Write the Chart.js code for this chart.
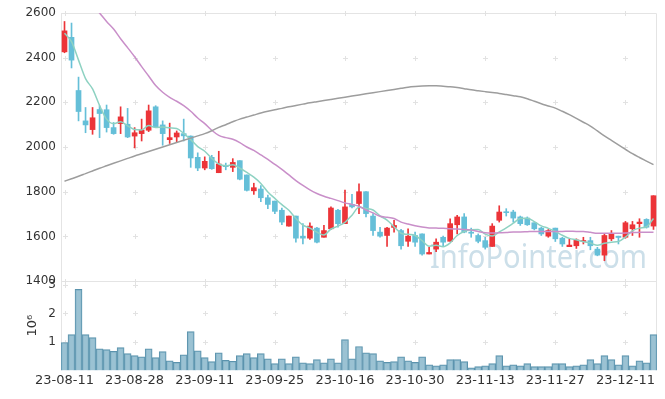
<!DOCTYPE html>
<html lang="ko">
<head>
    <meta charset="UTF-8">
    <title>Price chart</title>
    <script src="https://cdn.jsdelivr.net/npm/chart.js"></script>
    <style>
        body { margin: 0; background: #fff; }
        #stockChart { display: block; }
    </style>
</head>
<body>
<canvas id="stockChart" width="665" height="399"></canvas>
<script>
    let dates = ["23-08-11","23-08-14","23-08-16","23-08-17","23-08-18","23-08-21","23-08-22","23-08-23","23-08-24","23-08-25",
        "23-08-28","23-08-29","23-08-30","23-08-31","23-09-01","23-09-04","23-09-05","23-09-06","23-09-07","23-09-08",
        "23-09-11","23-09-12","23-09-13","23-09-14","23-09-15","23-09-18","23-09-19","23-09-20","23-09-21","23-09-22",
        "23-09-25","23-09-26","23-09-27","23-10-04","23-10-05","23-10-06","23-10-10","23-10-11","23-10-12","23-10-13",
        "23-10-16","23-10-17","23-10-18","23-10-19","23-10-20","23-10-23","23-10-24","23-10-25","23-10-26","23-10-27",
        "23-10-30","23-10-31","23-11-01","23-11-02","23-11-03","23-11-06","23-11-07","23-11-08","23-11-09","23-11-10",
        "23-11-13","23-11-14","23-11-15","23-11-16","23-11-17","23-11-20","23-11-21","23-11-22","23-11-23","23-11-24",
        "23-11-27","23-11-28","23-11-29","23-11-30","23-12-01","23-12-04","23-12-05","23-12-06","23-12-07","23-12-08",
        "23-12-11","23-12-12","23-12-13","23-12-14","23-12-15"];

    let openP = [2426,2491,2253,2117,2078,2168,2167,2087,2105,2102,
        2049,2060,2075,2180,2099,2033,2045,2060,2049,1954,
        1906,1954,1885,1918,1909,1939,1875,1804,1812,1773,
        1758,1717,1646,1691,1601,1592,1637,1596,1634,1717,
        1657,1743,1747,1800,1691,1619,1604,1640,1626,1578,
        1604,1611,1521,1543,1596,1578,1652,1687,1619,1604,
        1581,1555,1672,1709,1709,1687,1682,1661,1637,1601,
        1637,1592,1554,1558,1577,1581,1543,1516,1589,1601,
        1596,1634,1657,1676,1646];
    let highP = [2562,2555,2313,2177,2177,2185,2188,2110,2180,2173,
        2087,2125,2188,2185,2117,2107,2072,2125,2050,1974,
        1956,1963,1981,1928,1948,1939,1875,1838,1827,1785,
        1758,1727,1691,1691,1657,1661,1641,1649,1732,1721,
        1807,1788,1835,1800,1702,1641,1641,1672,1631,1634,
        1619,1611,1551,1589,1601,1679,1694,1702,1637,1611,
        1596,1657,1737,1724,1717,1691,1687,1661,1641,1631,
        1637,1596,1589,1589,1596,1596,1551,1611,1626,1601,
        1667,1667,1679,1679,1782];
    let lowP = [2422,2354,2117,2064,2057,2042,2067,2057,2060,2042,
        1996,2027,2069,2087,2008,2016,2024,2027,1909,1894,
        1898,1900,1885,1898,1890,1853,1803,1788,1755,1724,
        1702,1652,1646,1574,1566,1586,1571,1596,1631,1641,
        1657,1727,1702,1687,1604,1596,1555,1619,1543,1555,
        1555,1516,1521,1531,1555,1578,1611,1616,1596,1571,
        1543,1555,1664,1691,1664,1649,1649,1629,1604,1596,
        1577,1555,1554,1546,1566,1540,1513,1491,1581,1566,
        1592,1604,1596,1637,1631];
    let closeP = [2520,2389,2159,2099,2131,2150,2087,2060,2135,2045,
        2064,2076,2162,2090,2060,2042,2063,2050,1951,1906,
        1936,1903,1924,1912,1931,1856,1806,1818,1773,1743,
        1712,1664,1691,1592,1592,1646,1574,1626,1727,1657,
        1732,1732,1800,1702,1626,1601,1637,1649,1558,1601,
        1574,1521,1528,1574,1574,1657,1687,1619,1614,1578,
        1551,1646,1709,1706,1682,1657,1652,1634,1611,1626,
        1589,1566,1561,1584,1581,1558,1516,1604,1611,1595,
        1661,1652,1664,1641,1782];

    // moving averages
    let ma5 = [2509,2472,2389,2306,2260,2186,2125,2105,2113,2095,
        2078,2076,2096,2087,2090,2086,2083,2061,2033,2002,
        1981,1949,1924,1916,1921,1905,1886,1865,1837,1799,
        1770,1742,1717,1680,1650,1637,1619,1606,1633,1646,
        1663,1695,1730,1725,1718,1692,1673,1643,1614,1609,
        1604,1581,1556,1560,1554,1571,1604,1622,1630,1631,
        1610,1602,1620,1638,1659,1680,1681,1666,1647,1636,
        1622,1605,1591,1585,1576,1570,1560,1569,1574,1577,
        1597,1625,1637,1643,1680];
    let ma20 = [2770,2740,2705,2670,2635,2600,2562,2528,2485,2445,
        2404,2360,2318,2275,2245,2222,2205,2185,2160,2130,
        2105,2075,2052,2042,2035,2020,2000,1985,1965,1945,
        1922,1900,1875,1850,1828,1808,1792,1780,1770,1760,
        1750,1743,1735,1718,1705,1690,1686,1680,1664,1655,
        1648,1642,1638,1637,1636,1634,1633,1631,1628,1622,
        1616,1615,1616,1617,1620,1620,1621,1622,1622,1622,
        1622,1622,1623,1622,1622,1618,1614,1614,1614,1614,
        1615,1617,1618,1619,1619];
    let ma60 = [1847,1858,1869,1881,1893,1905,1916,1927,1938,1949,
        1960,1970,1980,1990,2000,2010,2020,2030,2040,2050,
        2060,2073,2088,2100,2113,2125,2134,2143,2152,2160,
        2167,2173,2180,2186,2192,2198,2203,2208,2213,2218,
        2223,2228,2233,2238,2243,2248,2253,2258,2263,2268,
        2271,2273,2274,2274,2272,2270,2266,2261,2256,2252,
        2248,2244,2240,2235,2230,2225,2216,2205,2194,2184,
        2174,2160,2145,2128,2111,2094,2072,2050,2030,2010,
        1990,1970,1953,1937,1921];

    // volume in millions of shares
    let volume = [0.98,1.26,2.85,1.26,1.15,0.76,0.73,0.67,0.80,0.59,
        0.52,0.48,0.76,0.45,0.66,0.34,0.28,0.55,1.36,0.69,
        0.45,0.31,0.62,0.35,0.32,0.52,0.59,0.45,0.59,0.41,
        0.24,0.41,0.24,0.48,0.27,0.24,0.38,0.27,0.41,0.27,
        1.08,0.41,0.84,0.62,0.59,0.34,0.28,0.31,0.48,0.34,
        0.28,0.48,0.20,0.16,0.20,0.38,0.38,0.31,0.09,0.13,
        0.16,0.24,0.52,0.16,0.20,0.16,0.24,0.13,0.13,0.13,
        0.24,0.24,0.13,0.16,0.20,0.38,0.24,0.52,0.38,0.20,
        0.52,0.16,0.34,0.27,1.26];

    let priceTicks = [1400, 1600, 1800, 2000, 2200, 2400, 2600];
    let volumeTicks = [1, 2, 3];
    let labelEvery = 10;

    const RED = "#ec3438";
    const BLUE = "#65bfd8";
    let candleColors = closeP.map((c, i) => c >= openP[i] ? RED : BLUE);

    // frame, "+" grid marks and watermark
    let framePlugin = {
        id: "frame",
        beforeDatasetsDraw(chart) {
            let ctx = chart.ctx, a = chart.chartArea;
            let x = chart.scales.x, y = chart.scales.y, yv = chart.scales.yv;
            ctx.save();

            ctx.font = "32px 'Noto Sans'";
            let w = ctx.measureText("InfoPointer.com").width;
            ctx.translate(430, 268);
            ctx.scale(217 / w, 1);
            ctx.fillStyle = "#ccdfe9";
            ctx.fillText("InfoPointer.com", 0, 0);
            ctx.setTransform(1, 0, 0, 1, 0, 0);

            ctx.strokeStyle = "#e4e4e4";
            ctx.lineWidth = 1;
            ctx.beginPath();
            ctx.moveTo(a.left + 0.5, a.top + 0.5);
            ctx.lineTo(a.right - 0.5, a.top + 0.5);
            ctx.lineTo(a.right - 0.5, a.bottom);
            ctx.moveTo(a.left + 0.5, a.top);
            ctx.lineTo(a.left + 0.5, a.bottom);
            ctx.moveTo(a.left, Math.round(y.bottom) + 0.5);
            ctx.lineTo(a.right, Math.round(y.bottom) + 0.5);
            ctx.stroke();

            ctx.strokeStyle = "#e2e2e2";
            let ys = priceTicks.map(v => y.getPixelForValue(v)).concat(volumeTicks.map(v => yv.getPixelForValue(v)));
            ctx.beginPath();
            dates.forEach((d, i) => {
                if (i % labelEvery !== 0) return;
                let px = Math.round(x.getPixelForValue(i)) + 0.5;
                ys.forEach(py => {
                    py = Math.round(py) + 0.5;
                    ctx.moveTo(px - 2.5, py); ctx.lineTo(px + 2.5, py);
                    ctx.moveTo(px, py - 2.5); ctx.lineTo(px, py + 2.5);
                });
            });
            ctx.stroke();
            ctx.restore();
        }
    };

    let lineStyle = { type: "line", yAxisID: "y", pointRadius: 0, borderWidth: 1.5, fill: false, cubicInterpolationMode: "monotone", order: 0 };
    let tickFont = { family: "DejaVu Sans", size: 12 };
    let noGrid = { display: false, drawTicks: false };

    let chart = new Chart(document.getElementById("stockChart").getContext("2d"), {
        data: {
            labels: dates,
            datasets: [
                Object.assign({ data: ma60, borderColor: "#9d9d9d" }, lineStyle),
                Object.assign({ data: ma20, borderColor: "#c98fc9" }, lineStyle),
                Object.assign({ data: ma5, borderColor: "#8ed2c2" }, lineStyle),
                {
                    type: "bar", yAxisID: "y", order: 2, grouped: false,
                    data: dates.map((d, i) => [lowP[i], highP[i]]),
                    backgroundColor: candleColors, barThickness: 1
                },
                {
                    type: "bar", yAxisID: "y", order: 1, grouped: false,
                    data: dates.map((d, i) => [openP[i], closeP[i]]),
                    backgroundColor: candleColors, barThickness: 5, minBarLength: 1
                },
                {
                    type: "bar", yAxisID: "yv", order: 1, grouped: false,
                    data: volume,
                    backgroundColor: "rgba(137,183,203,0.85)",
                    borderColor: "#5b93ad", borderWidth: 1,
                    barPercentage: 1, categoryPercentage: 1
                }
            ]
        },
        options: {
            responsive: false,
            animation: false,
            layout: { padding: { top: 13, right: 8, left: 4, bottom: 9 } },
            plugins: { legend: { display: false }, tooltip: { enabled: false } },
            scales: {
                x: {
                    offset: true,
                    grid: noGrid,
                    border: { display: false },
                    ticks: {
                        autoSkip: false, maxRotation: 0, padding: 2,
                        color: "#333", font: { family: "DejaVu Sans", size: 13 },
                        callback: function (v, i) { return i % labelEvery === 0 ? dates[i] : null; }
                    }
                },
                // left boxes are laid out in reverse, so the volume axis comes first here
                yv: {
                    position: "left", stack: "main", stackWeight: 1,
                    min: 0, max: 3.14,
                    grid: noGrid,
                    border: { display: false },
                    afterBuildTicks: s => { s.ticks = volumeTicks.map(v => ({ value: v })); },
                    afterFit: s => { s.width = 57; },
                    title: { display: true, text: "10\u2076", color: "#333", padding: { top: 21, bottom: 0 }, font: { family: "DejaVu Sans", size: 13 } },
                    ticks: { color: "#333", padding: 5, font: tickFont, callback: v => String(v) }
                },
                y: {
                    position: "left", stack: "main", stackWeight: 3,
                    min: 1400, max: 2600,
                    grid: noGrid,
                    border: { display: false },
                    afterBuildTicks: s => { s.ticks = priceTicks.map(v => ({ value: v })); },
                    afterFit: s => { s.width = 57; },
                    ticks: { color: "#333", padding: 5, font: tickFont, callback: v => String(v) }
                }
            }
        },
        plugins: [framePlugin]
    });
</script>
</body>
</html>
